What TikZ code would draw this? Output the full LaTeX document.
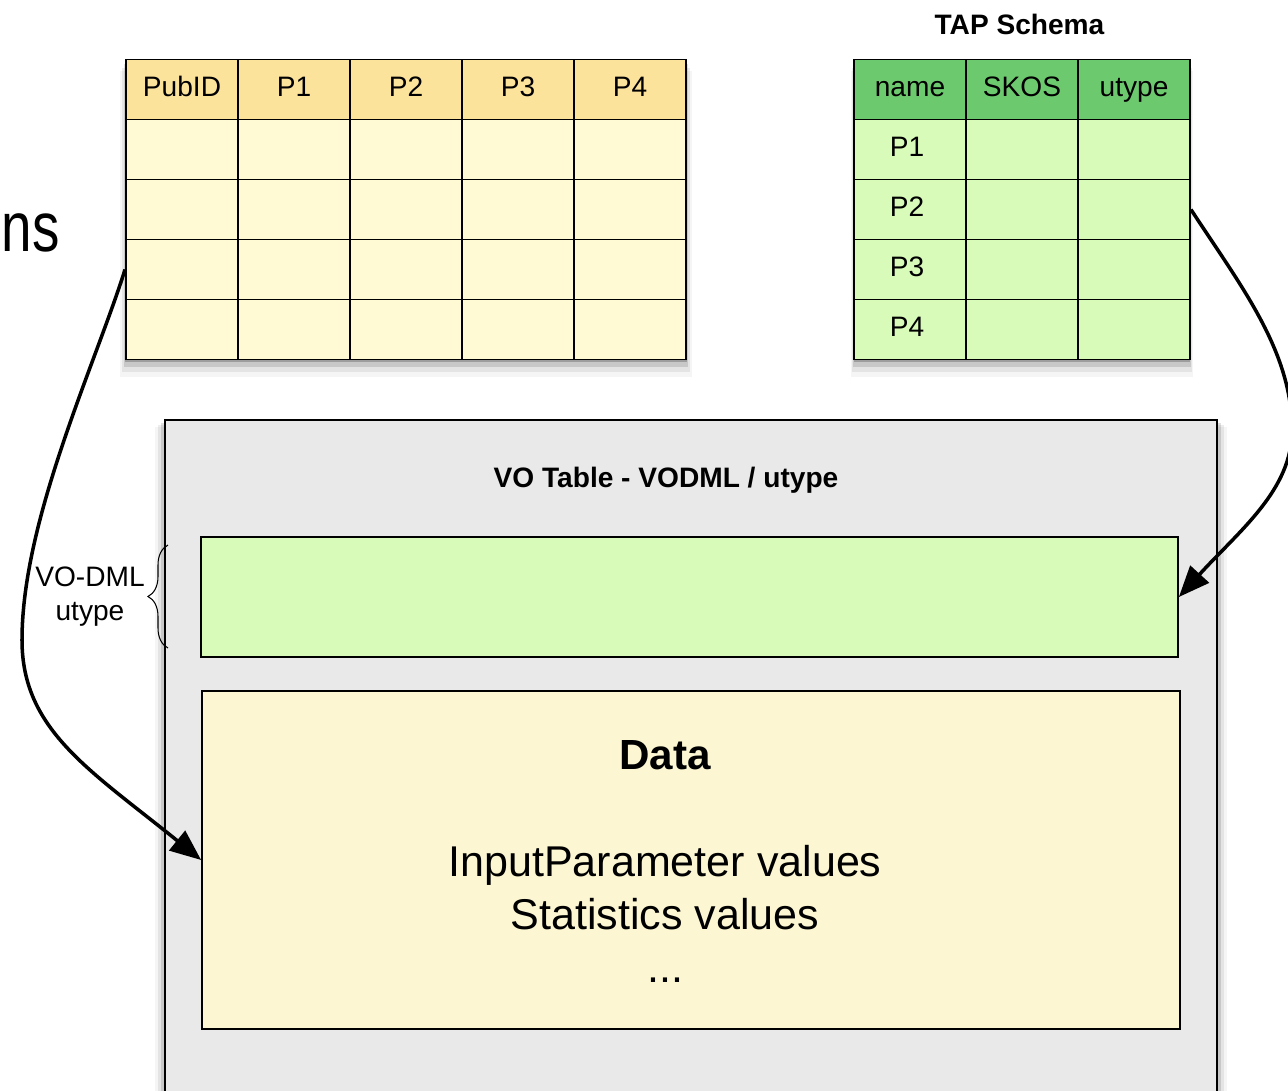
\documentclass[tikz,border=0pt]{standalone}
\usepackage{fontspec}
\setmainfont{Liberation Sans}
\usepackage{tikz}
\usetikzlibrary{positioning, arrows.meta, shadows, decorations.pathreplacing}

\definecolor{pubhead}{HTML}{FCE39C}
\definecolor{pubbody}{HTML}{FFF9D4}
\definecolor{taphead}{HTML}{6DC96E}
\definecolor{tapbody}{HTML}{D9FBB9}
\definecolor{vogray}{HTML}{E9E9E9}
\definecolor{databody}{HTML}{FCF7D2}

\begin{document}
\begin{tikzpicture}[
  x=0.02cm, y=-0.02cm,
  line width=1.1pt,
  cell/.style={draw, minimum width=2.24cm, minimum height=1.2cm, inner sep=0pt,
               text height=11.5pt, text depth=3.4pt, font=\fontsize{16}{19}\selectfont},
  softshadow/.style={
    general shadow={fill=black, opacity=0.22, shadow yshift=-0.05cm, shadow scale=1.002},
    general shadow={fill=black, opacity=0.12, shadow yshift=-0.12cm, shadow scale=1.008},
    general shadow={fill=black, opacity=0.07, shadow yshift=-0.2cm, shadow scale=1.014},
    general shadow={fill=black, opacity=0.04, shadow yshift=-0.28cm, shadow scale=1.02}},
  box/.style={draw, inner sep=0pt, softshadow},
  link/.style={line width=2pt, -{Triangle[length=0.62cm, width=0.5cm]}},
]
  \useasboundingbox (0,0) rectangle (1288,1091);
  \clip (0,0) rectangle (1288,1091);

  % cut-off word on the left
  \node[anchor=base west, font=\fontsize{40}{48}\selectfont, inner sep=0pt] (cutword)
    at (1,252) {\scalebox{0.78}[1]{ns}};

  % publication table
  \node[box, fill=pubbody, minimum width=11.2cm, minimum height=6cm] (pubtab) at (406,209.5) {};
  \foreach \t [count=\c] in {PubID,P1,P2,P3,P4} {
    \node[cell, fill=pubhead] (pub-0-\c) at ({182+112*(\c-1)}, 89.5) {\t};
    \foreach \r in {1,...,4} {
      \node[cell, fill=pubbody] (pub-\r-\c) at ({182+112*(\c-1)}, {89.5+60*\r}) {};
    }
  }

  % TAP schema table
  \node[font=\bfseries\fontsize{16}{19}\selectfont] (taptitle) at (1019.5,24) {TAP Schema};
  \node[box, fill=tapbody, minimum width=6.72cm, minimum height=6cm] (taptab) at (1022,209.5) {};
  \foreach \t [count=\c] in {name,SKOS,utype} {
    \node[cell, fill=taphead] (tap-0-\c) at ({910+112*(\c-1)}, 89.5) {\t};
    \foreach \r in {1,...,4} {
      \node[cell, fill=tapbody] (tap-\r-\c) at ({910+112*(\c-1)}, {89.5+60*\r}) {};
    }
  }
  \foreach \r in {1,...,4} {
    \node[cell, draw=none, xshift=-0.06cm] at (tap-\r-1) {P\r};
  }

  % VO table
  \node[box, fill=vogray, minimum width=21.04cm, minimum height=14cm] (votable) at (691,770) {};
  \node[font=\bfseries\fontsize{16}{19}\selectfont] (votitle) at (666,480) {VO Table - VODML / utype};
  \node[draw, inner sep=0pt, fill=tapbody, minimum width=19.54cm, minimum height=2.4cm]
    (vodml) at (689.5,597) {};
  \node[draw, inner sep=0pt, fill=databody, minimum width=19.56cm, minimum height=6.76cm]
    (data) at (691,860) {};
  \node[font=\bfseries\fontsize{24}{29}\selectfont] (datatitle) at (665,755) {Data};
  \node[anchor=base, font=\fontsize{24.5}{30}\selectfont] (inparams) at (665,876) {InputParameter values};
  \node[anchor=base, font=\fontsize{24.5}{30}\selectfont] (statvals) at (665,929) {Statistics values};
  \node[anchor=base, font=\fontsize{24.5}{30}\selectfont] (moredots) at (665,982) {...};

  % brace
  \draw[decorate, decoration={brace, amplitude=0.4cm}, line width=0.6pt] (168,648) -- (168,545);
  \node[align=center, font=\fontsize{16}{19.3}\selectfont] (dmllabel) at (90,597) {VO-DML\\utype};

  % links
  \coordinate (lbend) at (22,640);
  \coordinate (rbend) at (1292,430);
  \draw[link] (pub-3-1.west) .. controls (95,365) and (22,520) .. (lbend)
    .. controls (22,730) and (90,770) .. (data.west);
  \draw[link] (tap-2-3.east) .. controls (1240,285) and (1292,350) .. (rbend)
    .. controls (1292,490) and (1240,530) .. (vodml.east);
\end{tikzpicture}
\end{document}
